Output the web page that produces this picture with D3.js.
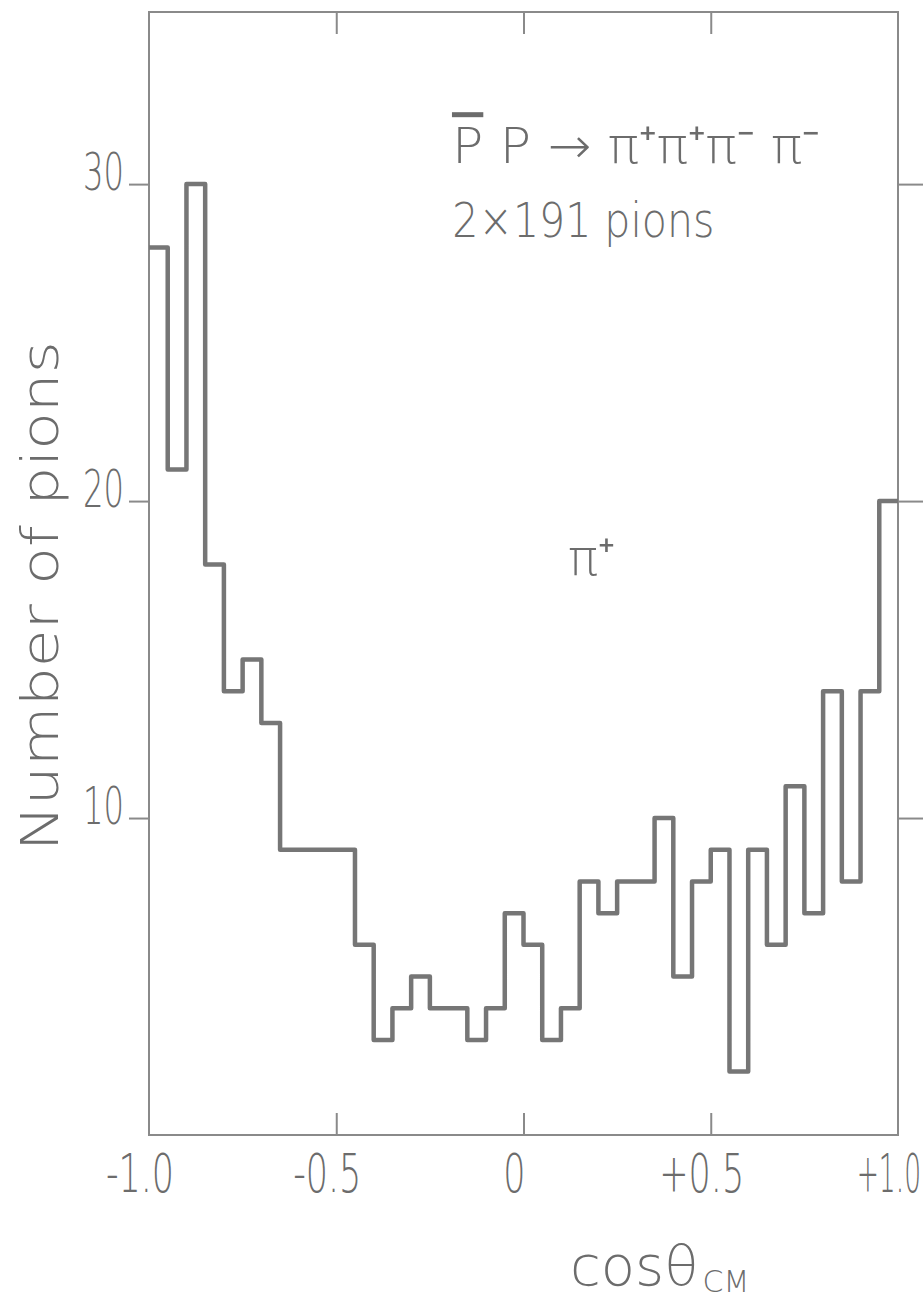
<!DOCTYPE html>
<meta charset="utf-8">

<style>
body { margin: 0; background: #fff; }
text { font-family: "DejaVu Sans", sans-serif; font-weight: 200; fill: #6c6c6c; }
.frame { fill: none; stroke: #8a8a8a; stroke-width: 2; }
.tick line { stroke: #8a8a8a; stroke-width: 2; }
.domain { display: none; }
.hist { fill: none; stroke: #767676; stroke-width: 4.5; stroke-linejoin: round; }
</style>

<body>
<script src="https://d3js.org/d3.v7.min.js"></script>
<script>
// pi+ angular distribution, bins of 0.05 in cos(theta_cm)
var binLow = [-1.00, -0.95, -0.90, -0.85, -0.80, -0.75, -0.70, -0.65, -0.60, -0.55,
              -0.50, -0.45, -0.40, -0.35, -0.30, -0.25, -0.20, -0.15, -0.10, -0.05,
               0.00,  0.05,  0.10,  0.15,  0.20,  0.25,  0.30,  0.35,  0.40,  0.45,
               0.50,  0.55,  0.60,  0.65,  0.70,  0.75,  0.80,  0.85,  0.90,  0.95];
var counts = [28, 21, 30, 18, 14, 15, 13, 9, 9, 9,
               9,  6,  3,  4,  5,  4,  4, 3, 4, 7,
               6,  3,  4,  8,  7,  8,  8, 10, 5, 8,
               9,  2,  9,  6, 11,  7, 14,  8, 14, 20];
var binWidth = 0.05;

var yTicks = [10, 20, 30];
var xTicks = [-1, -0.5, 0, 0.5, 1];
var xTickLabels = ["-1.0", "-0.5", "0", "+0.5", "+1.0"];
var xInnerTicks = [-0.5, 0, 0.5];

var width = 923,
    height = 1303;

var svg = d3.select("body").append("svg")
    .attr("width", width)
    .attr("height", height);

var x = d3.scaleLinear().domain([-1, 1]).range([149, 898]);
var y = d3.scaleLinear().domain([0, 35.43]).range([1135, 12]);

// frame
svg.append("rect")
    .attr("class", "frame")
    .attr("x", x(-1))
    .attr("y", y(35.43))
    .attr("width", x(1) - x(-1))
    .attr("height", y(0) - y(35.43));

// ticks: outward on left/right, inward on top/bottom
svg.append("g")
    .attr("transform", "translate(" + x(-1) + ",0)")
    .call(d3.axisLeft(y).tickValues(yTicks).tickSize(20).tickFormat(""));
svg.append("g")
    .attr("transform", "translate(" + x(1) + ",0)")
    .call(d3.axisRight(y).tickValues(yTicks).tickSize(25).tickFormat(""));
svg.append("g")
    .attr("transform", "translate(0," + y(35.43) + ")")
    .call(d3.axisBottom(x).tickValues(xInnerTicks).tickSize(22).tickFormat(""));
svg.append("g")
    .attr("transform", "translate(0," + y(0) + ")")
    .call(d3.axisTop(x).tickValues(xInnerTicks).tickSize(22).tickFormat(""));

// tick labels (narrow lettering)
svg.append("g").selectAll("g")
    .data(yTicks)
    .enter().append("g")
    .attr("transform", function(d) { return "translate(" + (x(-1) - 25) + "," + (y(d) + 6) + ")"; })
    .append("text")
    .attr("transform", "scale(0.62,1)")
    .attr("text-anchor", "end")
    .style("font-size", "52px")
    .text(function(d) { return d; });

var last = xTicks.length - 1;
svg.append("g").selectAll("g")
    .data(xTicks)
    .enter().append("g")
    .attr("transform", function(d, i) {
        // the last label sits right against the page edge
        var px = i === last ? width - 2 : x(d) - 9;
        return "translate(" + px + "," + (y(0) + 57) + ")"; })
    .append("text")
    .attr("transform", function(d, i) { return i === last ? "scale(0.5,1)" : "scale(0.66,1)"; })
    .attr("text-anchor", function(d, i) { return i === last ? "end" : "middle"; })
    .style("font-size", "53px")
    .text(function(d, i) { return xTickLabels[i]; });

// histogram outline
var pts = binLow.map(function(b, i) { return [b, counts[i]]; });
pts.push([binLow[binLow.length - 1] + binWidth, counts[counts.length - 1]]);

svg.append("path")
    .attr("class", "hist")
    .attr("d", d3.line()
        .x(function(d) { return x(d[0]); })
        .y(function(d) { return y(d[1]); })
        .curve(d3.curveStepAfter)(pts));

// axis titles
svg.append("text")
    .attr("transform", "translate(58," + y(17) + ") rotate(-90)")
    .attr("text-anchor", "middle")
    .attr("textLength", 510)
    .attr("lengthAdjust", "spacingAndGlyphs")
    .style("font-size", "52px")
    .text("Number of pions");

var xt = svg.append("text")
    .attr("x", x(0.124))
    .attr("y", y(0) + 150)
    .style("font-size", "56px");
xt.append("tspan").text("cosθ");
xt.append("tspan")
    .attr("dy", 7)
    .attr("dx", 4)
    .style("font-size", "30px")
    .text("CM");

// annotations
var t1 = svg.append("text")
    .attr("x", x(-0.191))
    .attr("y", y(30.66))
    .attr("textLength", 368)
    .attr("lengthAdjust", "spacingAndGlyphs")
    .style("font-size", "50px");
t1.append("tspan").style("text-decoration", "overline").text("P");
t1.append("tspan").text(" P → π⁺π⁺π⁻ π⁻");

svg.append("text")
    .attr("x", x(-0.19))
    .attr("y", y(28.33))
    .attr("textLength", 262)
    .attr("lengthAdjust", "spacingAndGlyphs")
    .style("font-size", "48px")
    .text("2×191 pions");

svg.append("text")
    .attr("x", x(0.119))
    .attr("y", y(17.67))
    .style("font-size", "50px")
    .text("π⁺");
</script>
